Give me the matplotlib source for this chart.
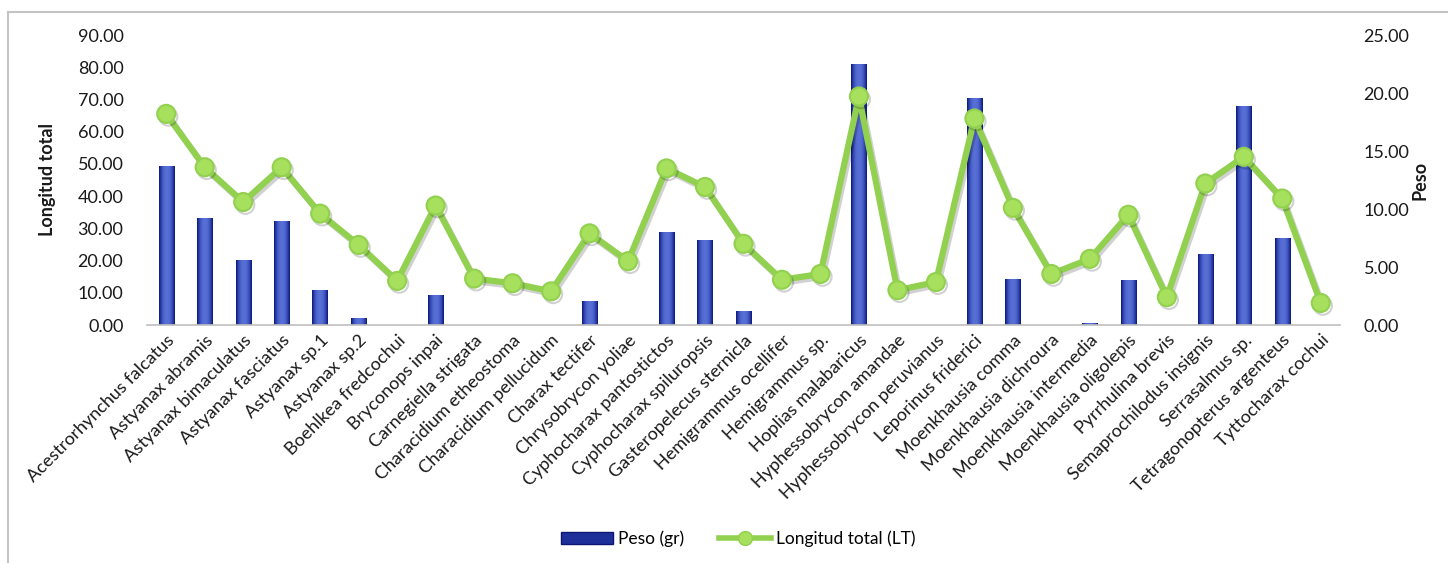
import matplotlib
matplotlib.use("Agg")
import matplotlib.pyplot as plt
import matplotlib.patheffects as pe
from matplotlib.lines import Line2D
from matplotlib.patches import Patch
from matplotlib.colors import LinearSegmentedColormap
import numpy as np

species = [
    "Acestrorhynchus falcatus", "Astyanax abramis", "Astyanax bimaculatus",
    "Astyanax fasciatus", "Astyanax sp.1", "Astyanax sp.2", "Boehlkea fredcochui",
    "Bryconops inpai", "Carnegiella strigata", "Characidium etheostoma",
    "Characidium pellucidum", "Charax tectifer", "Chrysobrycon yoliae",
    "Cyphocharax pantostictos", "Cyphocharax spiluropsis", "Gasteropelecus sternicla",
    "Hemigrammus ocellifer", "Hemigrammus sp.", "Hoplias malabaricus",
    "Hyphessobrycon amandae", "Hyphessobrycon peruvianus", "Leporinus friderici",
    "Moenkhausia comma", "Moenkhausia dichroura", "Moenkhausia intermedia",
    "Moenkhausia oligolepis", "Pyrrhulina brevis", "Semaprochilodus insignis",
    "Serrasalmus sp.", "Tetragonopterus argenteus", "Tyttocharax cochui",
]

peso_gr = [
    49.3, 33.1, 20.2, 32.3, 10.9, 2.1, 0.0, 9.3, 0.0, 0.0,
    0.0, 7.4, 0.0, 28.8, 26.3, 4.3, 0.0, 0.0, 80.9, 0.0,
    0.0, 70.4, 14.4, 0.0, 0.5, 14.1, 0.0, 21.9, 68.0, 26.9, 0.0,
]

longitud_cm = [
    18.2, 13.6, 10.6, 13.6, 9.6, 6.9, 3.8, 10.3, 4.0, 3.6,
    2.9, 7.9, 5.5, 13.5, 11.9, 7.0, 3.9, 4.4, 19.7, 3.0,
    3.7, 17.8, 10.1, 4.4, 5.7, 9.5, 2.4, 12.2, 14.5, 10.9, 1.9,
]

left_ticks = [0, 10, 20, 30, 40, 50, 60, 70, 80, 90]
right_ticks = [0, 5, 10, 15, 20, 25]

FONT = ["Lato", "DejaVu Sans"]
plt.rcParams["font.family"] = FONT

W, H = 1448, 563
fig = plt.figure(figsize=(W / 100, H / 100), dpi=100)
fig.patch.set_facecolor("white")

# chart frame (top and left edges)
frame_col = "#c4c4c4"
fig.add_artist(Line2D([8 / W, 1.0], [1 - 12 / H, 1 - 12 / H], color=frame_col, lw=1.5,
                      transform=fig.transFigure))
fig.add_artist(Line2D([8 / W, 8 / W], [0, 1 - 12 / H], color=frame_col, lw=1.5,
                      transform=fig.transFigure))

ax = fig.add_axes([147 / W, 1 - 325 / H, (1340 - 147) / W, (325 - 35) / H])
x = np.arange(len(species))

bar_w = 0.4
bars = ax.bar(x, peso_gr, width=bar_w, color="#2f44b0", edgecolor="none", zorder=2)

# horizontal shading inside each bar: dark edges, lighter centre
grad = np.linspace(-1, 1, 64)
shade = 1 - np.abs(grad) ** 2.2
cmap = LinearSegmentedColormap.from_list("barshade", ["#0d1670", "#2c41ae", "#5870d6"])
for b in bars:
    h = b.get_height()
    if h <= 0:
        continue
    x0 = b.get_x()
    im = ax.imshow(shade[np.newaxis, :], cmap=cmap, aspect="auto",
                   extent=[x0, x0 + b.get_width(), 0, h], zorder=2.1,
                   interpolation="bilinear", vmin=0, vmax=1)
    im.set_clip_path(b)

ax.set_xlim(-0.5, len(species) - 0.5)
ax.set_ylim(0, 90)
ax.set_yticks(left_ticks)
ax.set_yticklabels([f"{v:.2f}" for v in left_ticks])
ax.set_xticks(x)
ax.set_xticklabels(species, rotation=45, ha="right", rotation_mode="anchor",
                   fontsize=13, color="#1a1a1a")
for s in ["top", "right", "left"]:
    ax.spines[s].set_visible(False)
ax.spines["bottom"].set_color("#bfbfbf")
ax.spines["bottom"].set_linewidth(1.2)
ax.tick_params(axis="x", length=0, pad=5)
ax.tick_params(axis="y", length=0, pad=17, labelsize=13, labelcolor="#1a1a1a")
ax.set_facecolor("none")

ax2 = ax.twinx()
ax2.set_ylim(0, 25)
ax2.set_yticks(right_ticks)
ax2.set_yticklabels([f"{v:.2f}" for v in right_ticks])
for s in ["top", "right", "left", "bottom"]:
    ax2.spines[s].set_visible(False)
ax2.tick_params(axis="y", length=0, pad=17, labelsize=13, labelcolor="#1a1a1a")

green = "#92d050"
ax2.plot(x, longitud_cm, color=green, lw=4.5, marker="o", markersize=13,
         markerfacecolor="#a6e05c", markeredgecolor=green, markeredgewidth=1.5,
         zorder=3, solid_joinstyle="round",
         path_effects=[pe.SimpleLineShadow(offset=(1.5, -2), alpha=0.18, shadow_color="black"),
                       pe.Normal()])

fig.text(47 / W, 1 - 180 / H, "Longitud total", rotation=90, ha="center", va="center",
         fontsize=13, fontweight="bold", color="#1a1a1a")
fig.text(1420 / W, 1 - 180 / H, "Peso", rotation=90, ha="center", va="center",
         fontsize=13, fontweight="bold", color="#1a1a1a")

handles = [
    Patch(facecolor="#1f2f9a", edgecolor="#0d1670"),
    Line2D([0], [0], color=green, lw=4, marker="o", markersize=10,
           markerfacecolor="#a6e05c", markeredgecolor=green),
]
fig.legend(handles, ["Peso (gr)", "Longitud total (LT)"], loc="center",
           bbox_to_anchor=(738 / W, 1 - 539 / H), ncol=2, frameon=False,
           fontsize=12.5, handlelength=3.0, handleheight=0.7, columnspacing=2.0,
           handletextpad=0.3)

fig.savefig("out.png", dpi=100, facecolor="white")
